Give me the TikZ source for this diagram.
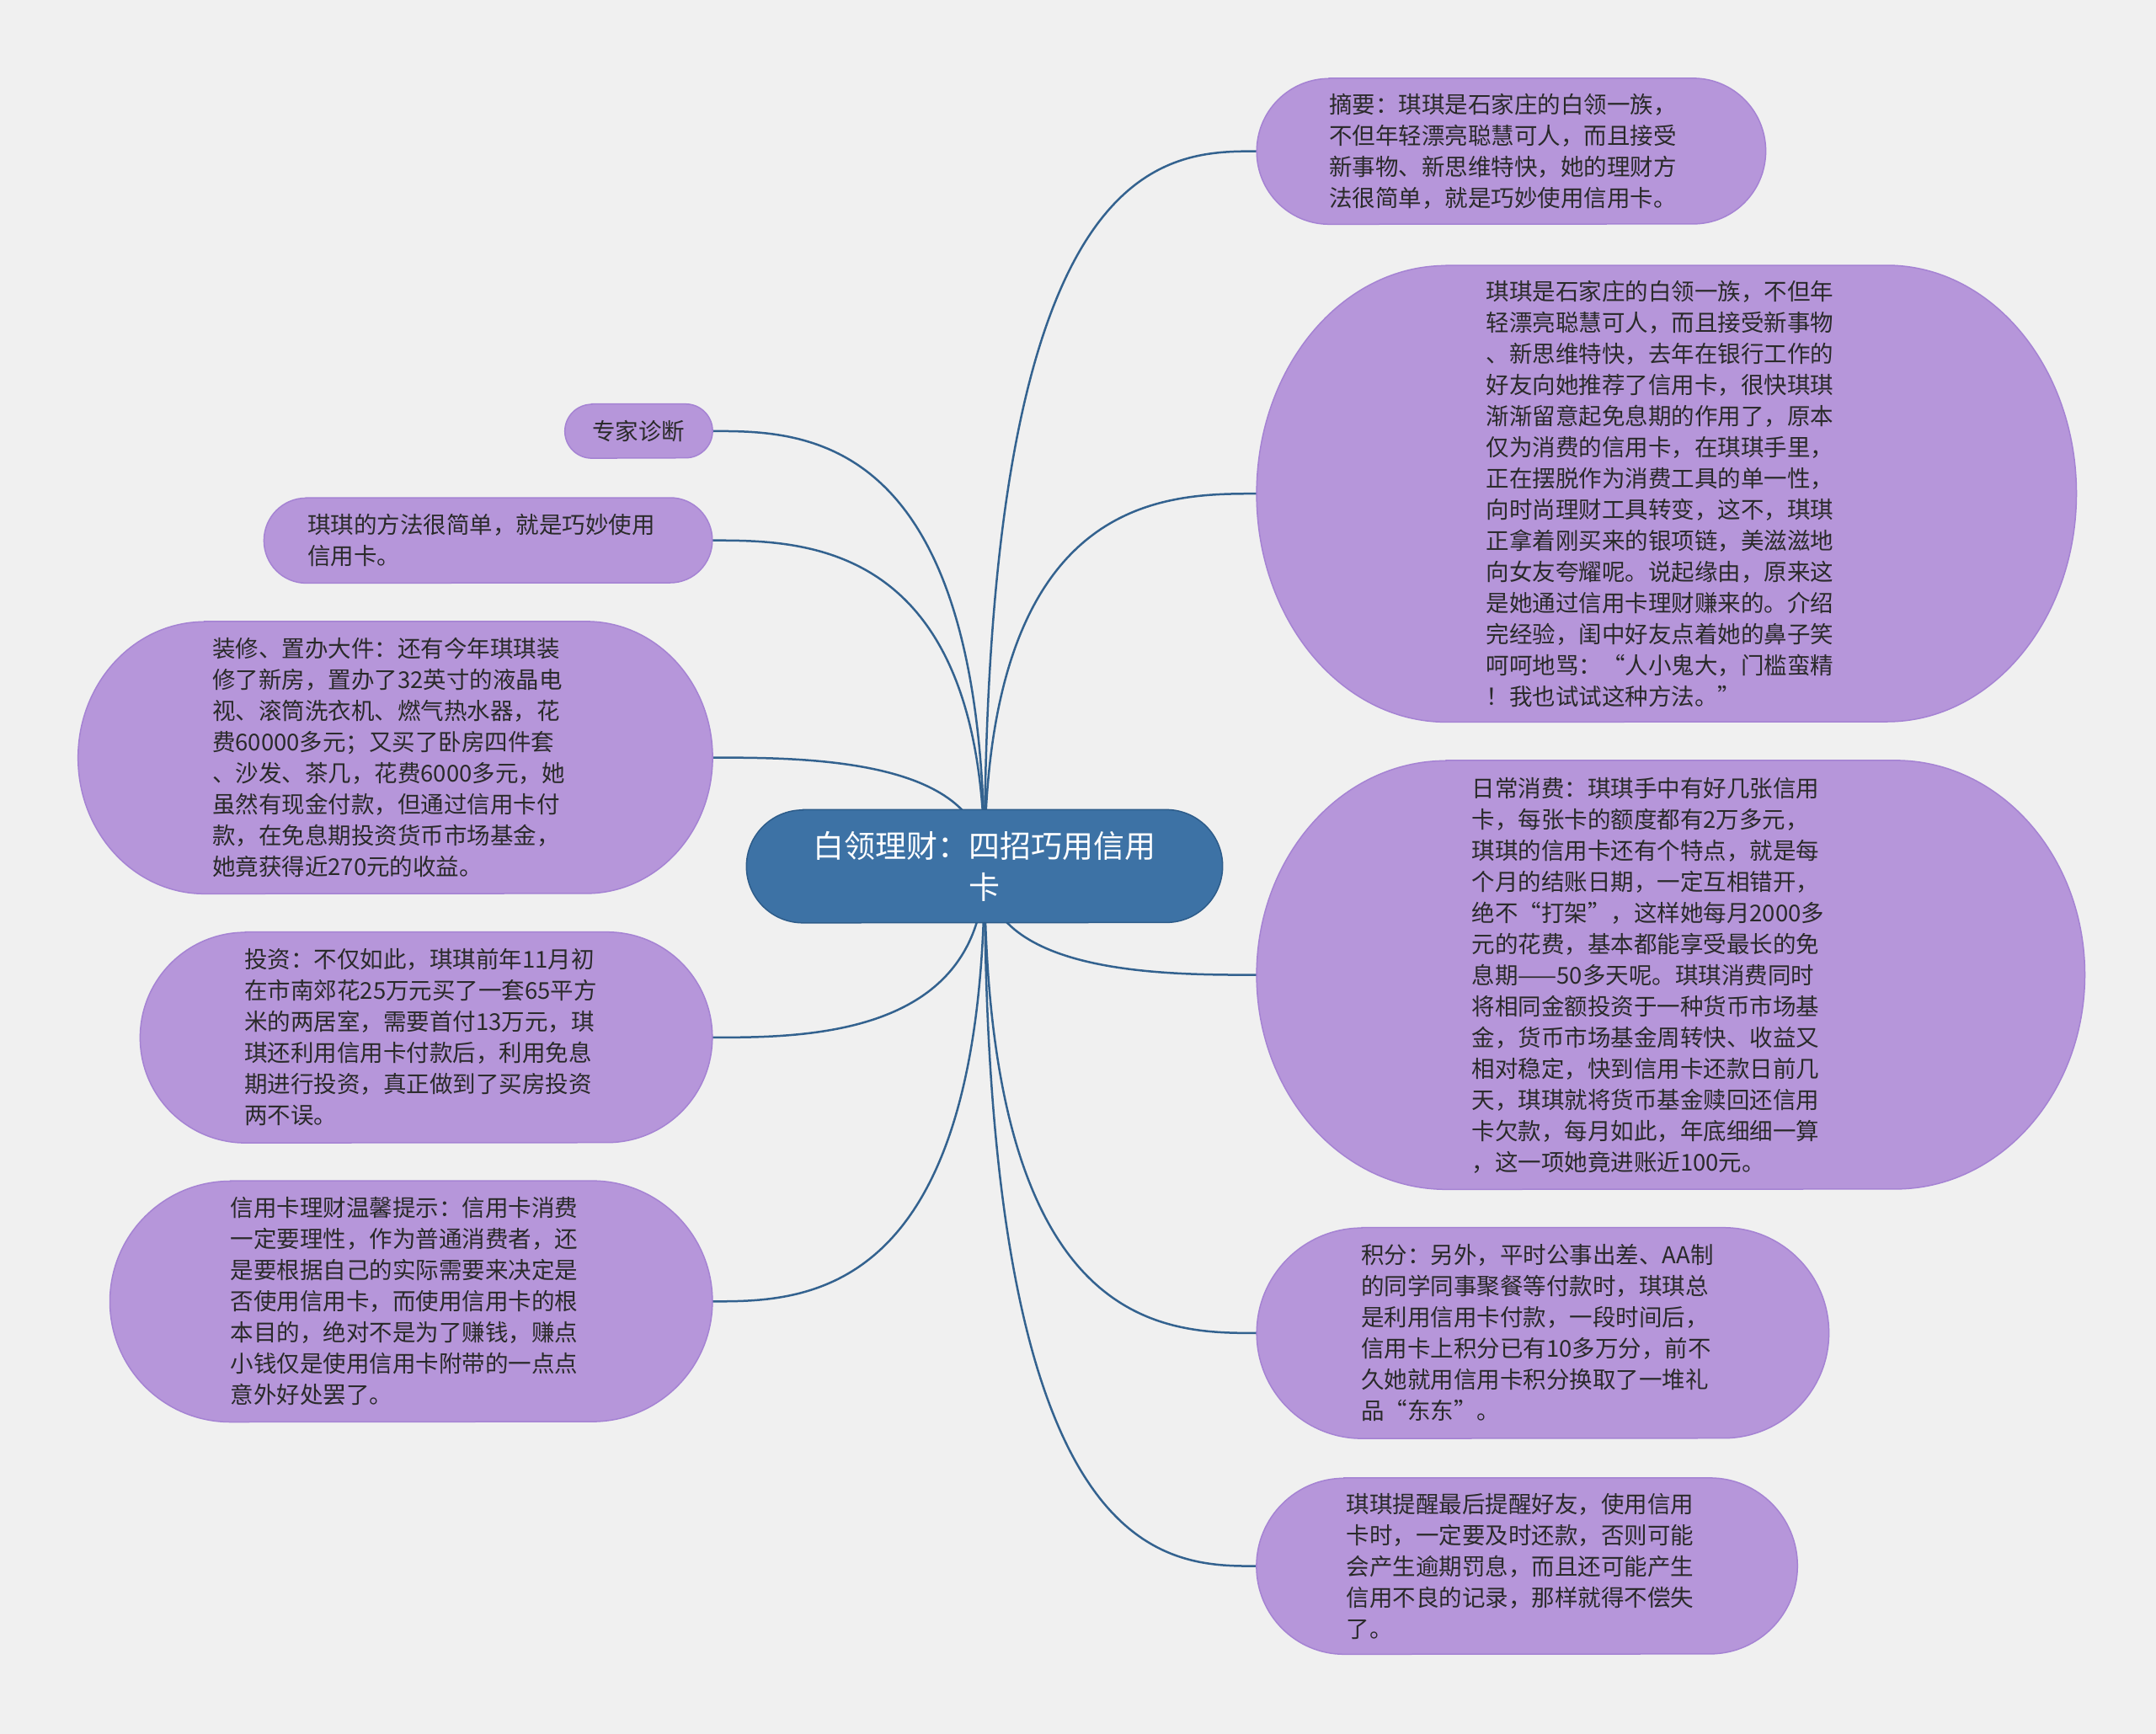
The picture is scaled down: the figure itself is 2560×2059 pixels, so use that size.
\documentclass[tikz,border=0pt]{standalone}
\usepackage{fontspec}
\newfontfamily\cjkfont{Noto Sans CJK SC}
\usetikzlibrary{calc}
\definecolor{bgcol}{HTML}{F0F0F0}
\definecolor{leaffill}{HTML}{B696DA}
\definecolor{leafline}{HTML}{A583D3}
\definecolor{rootfill}{HTML}{3D72A5}
\definecolor{rootline}{HTML}{2D5C8A}
\definecolor{edgecol}{HTML}{33628F}
\definecolor{txtcol}{HTML}{2A2A2A}
\pgfdeclarelayer{edgelayer}
\pgfdeclarelayer{shapelayer}
\pgfsetlayers{edgelayer,shapelayer,main}
\tikzset{
  leafshape/.style={fill=leaffill, draw=leafline, line width=1.5pt},
  rootshape/.style={fill=rootfill, draw=rootline, line width=1.5pt},
  leaftext/.style={inner sep=0pt, align=left, text=txtcol, font=\cjkfont\fontsize{27.5}{37}\selectfont},
  roottext/.style={inner sep=0pt, align=center, text=white, font=\cjkfont\fontsize{37}{49}\selectfont},
  edge/.style={draw=edgecol, line width=2.5pt},
}
% text block with extra room on its right (moves the centred text left) and a little on top
\newcommand\padbox[2]{\begin{tabular}{@{}l@{\hspace{#1pt}}}\noalign{\vskip6pt}#2\end{tabular}}
\newcommand\mmnode[9]{%
  \node[#2, minimum width=#6pt, minimum height=#7pt] (#3) at (#4,-#5) {#9};
  \begin{pgfonlayer}{shapelayer}
  \path[#1] ([xshift=#8pt]#3.north west) -- ([xshift=-#8pt]#3.north east)
    arc[start angle=90, end angle=-90, x radius=#8, y radius=#7/2]
    -- ([xshift=#8pt]#3.south west)
    arc[start angle=270, end angle=90, x radius=#8, y radius=#7/2] -- cycle;
  \end{pgfonlayer}}
\newcommand\mmedge[2]{%
  \draw[edge] (root.center) .. controls (root.center |- #1.#2) and ($(root.center |- #1.#2)!0.66!(#1.#2)$) .. (#1.#2);}
\begin{document}
\begin{tikzpicture}[x=1pt,y=1pt]
\useasboundingbox (0,0) rectangle (2560,-2059);
\begin{pgfonlayer}{edgelayer}
\fill[bgcol] (0,0) rectangle (2560,-2059);
\end{pgfonlayer}

\mmnode{rootshape}{roottext}{root}{1169}{1028.6}{565}{134}{67}{白领理财：四招巧用信用\\卡}

\mmnode{leafshape}{leaftext}{n1}{1794.4}{179.6}{604}{173}{86}{\padbox{20}{摘要：琪琪是石家庄的白领一族，\\不但年轻漂亮聪慧可人，而且接受\\新事物、新思维特快，她的理财方\\法很简单，就是巧妙使用信用卡。}}

\mmnode{leafshape}{leaftext}{n2}{1978.8}{586.2}{973}{542}{225}{\padbox{16}{琪琪是石家庄的白领一族，不但年\\轻漂亮聪慧可人，而且接受新事物\\、新思维特快，去年在银行工作的\\好友向她推荐了信用卡，很快琪琪\\渐渐留意起免息期的作用了，原本\\仅为消费的信用卡，在琪琪手里，\\正在摆脱作为消费工具的单一性，\\向时尚理财工具转变，这不，琪琪\\正拿着刚买来的银项链，美滋滋地\\向女友夸耀呢。说起缘由，原来这\\是她通过信用卡理财赚来的。介绍\\完经验，闺中好友点着她的鼻子笑\\呵呵地骂：“人小鬼大，门槛蛮精\\！我也试试这种方法。”}}

\mmnode{leafshape}{leaftext}{n3}{1983.8}{1157.6}{983}{509}{225}{\padbox{54}{日常消费：琪琪手中有好几张信用\\卡，每张卡的额度都有2万多元，\\琪琪的信用卡还有个特点，就是每\\个月的结账日期，一定互相错开，\\绝不“打架”，这样她每月2000多\\元的花费，基本都能享受最长的免\\息期——50多天呢。琪琪消费同时\\将相同金额投资于一种货币市场基\\金，货币市场基金周转快、收益又\\相对稳定，快到信用卡还款日前几\\天，琪琪就将货币基金赎回还信用\\卡欠款，每月如此，年底细细一算\\，这一项她竟进账近100元。}}

\mmnode{leafshape}{leaftext}{n4}{1831.9}{1582.9}{679}{250}{125}{\padbox{13}{积分：另外，平时公事出差、AA制\\的同学同事聚餐等付款时，琪琪总\\是利用信用卡付款，一段时间后，\\信用卡上积分已有10多万分，前不\\久她就用信用卡积分换取了一堆礼\\品“东东”。}}

\mmnode{leafshape}{leaftext}{n5}{1813.1}{1859.6}{642}{209}{104}{\padbox{16}{琪琪提醒最后提醒好友，使用信用\\卡时，一定要及时还款，否则可能\\会产生逾期罚息，而且还可能产生\\信用不良的记录，那样就得不偿失\\了。}}

\mmnode{leafshape}{leaftext}{l1}{758.4}{511.9}{175}{64}{32}{专家诊断}

\mmnode{leafshape}{leaftext}{l2}{579.6}{641.7}{532}{101}{50}{\padbox{16}{琪琪的方法很简单，就是巧妙使用\\信用卡。}}

\mmnode{leafshape}{leaftext}{l3}{469.4}{899.6}{753}{323}{150}{\padbox{16}{装修、置办大件：还有今年琪琪装\\修了新房，置办了32英寸的液晶电\\视、滚筒洗衣机、燃气热水器，花\\费60000多元；又买了卧房四件套\\、沙发、茶几，花费6000多元，她\\虽然有现金付款，但通过信用卡付\\款，在免息期投资货币市场基金，\\她竟获得近270元的收益。}}

\mmnode{leafshape}{leaftext}{l4}{506.1}{1231.9}{679}{250}{125}{\padbox{13}{投资：不仅如此，琪琪前年11月初\\在市南郊花25万元买了一套65平方\\米的两居室，需要首付13万元，琪\\琪还利用信用卡付款后，利用免息\\期进行投资，真正做到了买房投资\\两不误。}}

\mmnode{leafshape}{leaftext}{l5}{488.2}{1545.3}{715}{286}{143}{\padbox{16}{信用卡理财温馨提示：信用卡消费\\一定要理性，作为普通消费者，还\\是要根据自己的实际需要来决定是\\否使用信用卡，而使用信用卡的根\\本目的，绝对不是为了赚钱，赚点\\小钱仅是使用信用卡附带的一点点\\意外好处罢了。}}

\begin{pgfonlayer}{edgelayer}
\mmedge{n1}{west}
\mmedge{n2}{west}
\mmedge{n3}{west}
\mmedge{n4}{west}
\mmedge{n5}{west}
\mmedge{l1}{east}
\mmedge{l2}{east}
\mmedge{l3}{east}
\mmedge{l4}{east}
\mmedge{l5}{east}
\end{pgfonlayer}
\end{tikzpicture}
\end{document}
